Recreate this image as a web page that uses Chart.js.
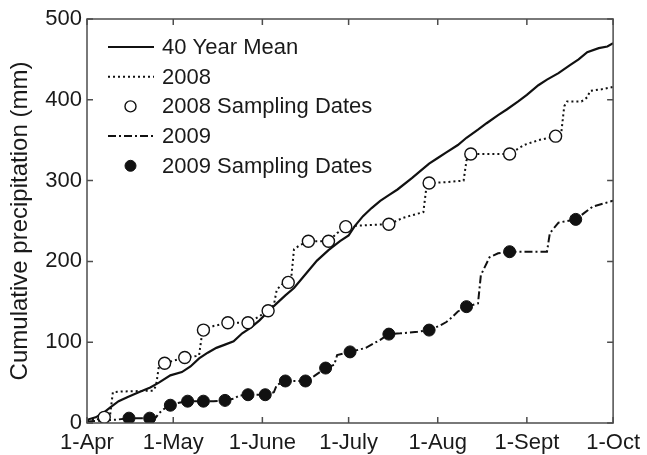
<!DOCTYPE html>
<html>
<head>
<meta charset="utf-8">
<title>Cumulative precipitation</title>
<script src="https://cdn.jsdelivr.net/npm/chart.js@4"></script>
<style>
  html, body { margin: 0; padding: 0; background: #ffffff; }
  #wrap { width: 647px; height: 455px; }
</style>
</head>
<body>
<div id="wrap"><canvas id="chart" width="647" height="455"></canvas></div>
<script>
// Days counted from 1 April; month ticks along the x axis
const tickDays = [0, 30, 61, 91, 122, 153, 183];
const tickLabels = ['1-Apr', '1-May', '1-June', '1-July', '1-Aug', '1-Sept', '1-Oct'];
const yTicks = [0, 100, 200, 300, 400, 500];

// 40 year mean cumulative precipitation (mm)
const meanDays = [0, 3, 5.5, 8, 11, 14, 18, 22, 25, 29, 33, 36, 39, 42, 45, 48, 51, 54, 57, 60, 63, 66, 69, 72, 76, 80, 84, 88, 91, 93, 96, 99, 102, 105, 108, 113, 116, 119, 122, 125, 129, 132, 136, 139, 143, 146, 150, 153, 157, 160, 164, 168, 171, 174, 178, 181, 183];
const meanMm   = [4, 7, 12, 19, 27, 32, 38, 44, 50, 59, 63, 70, 80, 87, 93, 97, 101, 111, 118, 127, 138, 148, 158, 167, 184, 201, 214, 225, 232, 243, 256, 266, 275, 282, 289, 303, 312, 321, 328, 335, 344, 353, 363, 371, 381, 388, 398, 406, 418, 425, 433, 443, 450, 459, 464, 466, 470];

// 2008 season
const days2008 = [0, 4, 6, 8, 9, 12, 23, 24, 25, 27, 30, 34, 38, 39, 40, 40.5, 44, 49, 56, 59, 63, 65, 66, 68, 70, 71, 72, 74, 77, 84, 87, 90, 93, 98, 105, 110, 117, 118, 119, 125, 131, 132, 133.5, 140, 147, 152, 157, 163, 165, 166, 167, 172, 174, 175, 179, 183];
const mm2008   = [3, 5, 7, 9, 38, 39, 40, 46, 70, 74, 77, 81, 83, 84, 110, 115, 120, 124, 124, 130, 139, 146, 165, 172, 174, 178, 215, 220, 225, 225, 235, 243, 244, 245, 246, 254, 261, 290, 297, 298, 300, 325, 333, 333, 333, 344, 350, 355, 360, 392, 398, 398, 403, 411, 413, 416];
const sampleDays2008 = [6, 27, 34, 40.5, 49, 56, 63, 70, 77, 84, 90, 105, 119, 133.5, 147, 163];
const sampleMm2008   = [7, 74, 81, 115, 124, 124, 139, 174, 225, 225, 243, 246, 297, 333, 333, 355];

// 2009 season
const days2009 = [0, 5, 10, 14.6, 21.8, 24, 25, 27, 29, 32, 35, 40.5, 44, 48, 51, 53, 56, 62, 65, 66, 69, 76, 79, 83, 86, 87, 91.5, 97, 102, 105, 109, 115, 119, 123, 125, 127, 129, 132, 136, 137, 140, 143, 147, 160, 161, 164, 170, 173, 176, 180, 183];
const mm2009   = [2, 3, 4, 6, 6, 7, 12, 18, 22, 25, 27, 27, 27, 28, 30, 34, 35, 35, 38, 47, 52, 52, 58, 68, 72, 84, 88, 93, 103, 110, 111, 113, 115, 121, 125, 131, 138, 144, 148, 183, 205, 210, 212, 212, 235, 248, 252, 260, 268, 272, 275];
const sampleDays2009 = [14.6, 21.8, 29, 35, 40.5, 48, 56, 62, 69, 76, 83, 91.5, 105, 119, 132, 147, 170];
const sampleMm2009   = [6, 6, 22, 27, 27, 28, 35, 35, 52, 52, 68, 88, 110, 115, 144, 212, 252];

const FONT = "'Liberation Sans', Arial, Helvetica, sans-serif";
const INK = '#1a1a1a';
const FRAME = '#4d4d4d';

const toXY = (xs, ys) => xs.map((x, i) => ({ x: x, y: ys[i] }));

const datasets = [
  { label: '40 Year Mean', data: toXY(meanDays, meanMm), showLine: true, borderColor: '#111', borderWidth: 2.2,
    pointRadius: 0, borderDash: [], order: 3, legendKind: 'line' },
  { label: '2008', data: toXY(days2008, mm2008), showLine: true, borderColor: '#111', borderWidth: 2,
    borderDash: [2, 3], pointRadius: 0, order: 2, legendKind: 'line' },
  { label: '2008 Sampling Dates', data: toXY(sampleDays2008, sampleMm2008), showLine: false, pointRadius: 6,
    pointBackgroundColor: '#ffffff', pointBorderColor: '#111', pointBorderWidth: 1.4, order: 0, legendKind: 'point' },
  { label: '2009', data: toXY(days2009, mm2009), showLine: true, borderColor: '#111', borderWidth: 2,
    borderDash: [8, 3, 2, 3], pointRadius: 0, order: 1, legendKind: 'line' },
  { label: '2009 Sampling Dates', data: toXY(sampleDays2009, sampleMm2009), showLine: false, pointRadius: 6,
    pointBackgroundColor: '#111', pointBorderColor: '#111', pointBorderWidth: 1, order: 0, legendKind: 'point' }
];

// Box frame with inward tick marks on all four sides
const framePlugin = {
  id: 'frame',
  afterDatasetsDraw(chart) {
    const { ctx, chartArea: a, scales } = chart;
    ctx.save();
    ctx.strokeStyle = FRAME;
    ctx.lineWidth = 1.5;
    ctx.strokeRect(a.left, a.top, a.right - a.left, a.bottom - a.top);
    ctx.beginPath();
    const len = 6;
    tickDays.forEach(d => {
      const x = scales.x.getPixelForValue(d);
      ctx.moveTo(x, a.bottom); ctx.lineTo(x, a.bottom - len);
      ctx.moveTo(x, a.top); ctx.lineTo(x, a.top + len);
    });
    yTicks.forEach(v => {
      const y = scales.y.getPixelForValue(v);
      ctx.moveTo(a.left, y); ctx.lineTo(a.left + len, y);
      ctx.moveTo(a.right, y); ctx.lineTo(a.right - len, y);
    });
    ctx.stroke();
    ctx.restore();
  }
};

// Legend drawn inside the plot, upper left
const legendPlugin = {
  id: 'insideLegend',
  afterDraw(chart) {
    const { ctx } = chart;
    const x0 = 108, x1 = 154, textX = 162, top = 47, step = 29.7;
    ctx.save();
    ctx.font = '22px ' + FONT;
    ctx.textBaseline = 'middle';
    ctx.fillStyle = INK;
    chart.data.datasets.forEach((ds, i) => {
      const y = top + i * step;
      if (ds.legendKind === 'line') {
        ctx.beginPath();
        ctx.setLineDash(ds.borderDash || []);
        ctx.lineWidth = ds.borderWidth;
        ctx.strokeStyle = ds.borderColor;
        ctx.moveTo(x0, y); ctx.lineTo(x1, y);
        ctx.stroke();
        ctx.setLineDash([]);
      } else {
        ctx.beginPath();
        ctx.arc((x0 + x1) / 2 - 0.5, y, 5.5, 0, Math.PI * 2);
        ctx.fillStyle = ds.pointBackgroundColor;
        ctx.fill();
        ctx.lineWidth = ds.pointBorderWidth;
        ctx.strokeStyle = ds.pointBorderColor;
        ctx.stroke();
      }
      ctx.fillStyle = INK;
      ctx.fillText(ds.label, textX, y + 1);
    });
    ctx.restore();
  }
};

new Chart(document.getElementById('chart'), {
  type: 'scatter',
  data: { datasets: datasets },
  options: {
    responsive: false,
    animation: false,
    devicePixelRatio: 1,
    layout: { padding: { top: 19, right: 32, left: 0, bottom: 0 } },
    plugins: { legend: { display: false }, tooltip: { enabled: false } },
    scales: {
      x: {
        type: 'linear', min: 0, max: 183,
        afterBuildTicks: s => { s.ticks = tickDays.map(v => ({ value: v })); },
        afterFit: s => { s.height = 32; },
        grid: { display: false, drawTicks: false },
        border: { display: false },
        ticks: {
          autoSkip: false, maxRotation: 0, padding: 7, color: INK,
          font: { family: FONT, size: 22 },
          callback: (v, i) => tickLabels[i]
        }
      },
      y: {
        type: 'linear', min: 0, max: 500,
        afterBuildTicks: s => { s.ticks = yTicks.map(v => ({ value: v })); },
        afterFit: s => { s.width = 87; },
        grid: { display: false, drawTicks: false },
        border: { display: false },
        ticks: { padding: 5, color: INK, font: { family: FONT, size: 22 } },
        title: {
          display: true, text: 'Cumulative precipitation (mm)', color: INK,
          font: { family: FONT, size: 24 }, padding: { top: 6, bottom: 0 }
        }
      }
    }
  },
  plugins: [framePlugin, legendPlugin]
});
</script>
</body>
</html>
